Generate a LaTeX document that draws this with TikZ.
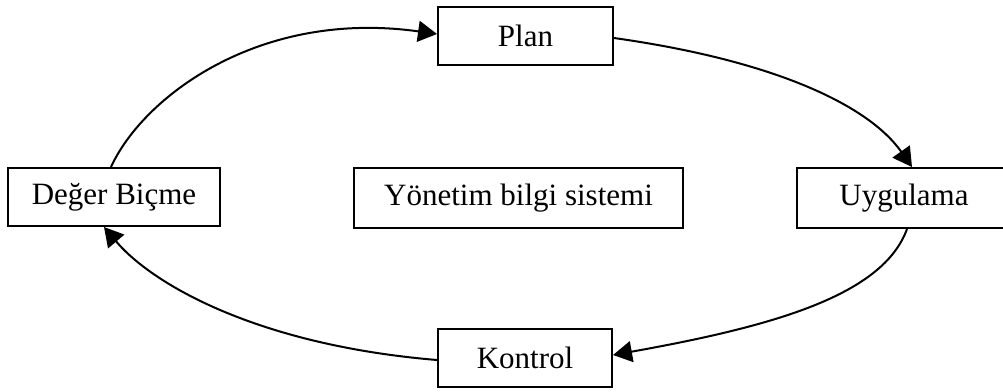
\documentclass[tikz,border=0pt]{standalone}
\usepackage{fontspec}
\setmainfont{Liberation Serif}
\usetikzlibrary{arrows.meta,calc}
\begin{document}
\begin{tikzpicture}[x=1pt,y=-1pt,
  stage/.style={draw=black,line width=2pt,fill=white,inner sep=0pt,
    font=\fontsize{31}{37}\selectfont},
  flow/.style={line width=2pt,-{Triangle[length=19pt,width=21pt]}}]
  \useasboundingbox (0,0) rectangle (1003,391);
  \clip (0,0) rectangle (1003,391);

  % cycle stages around the central information system
  \node[stage,minimum width=175pt,minimum height=58pt] (plan)    at (525.5,36)  {Plan};
  \node[stage,minimum width=212pt,minimum height=58pt] (deger)   at (114,197)   {Değer Biçme};
  \node[stage,minimum width=329pt,minimum height=60pt] (ybs)     at (518.5,198) {Yönetim bilgi sistemi};
  \node[stage,minimum width=214pt,minimum height=60pt] (uyg)     at (904,198)   {Uygulama};
  \node[stage,minimum width=174pt,minimum height=58pt] (kontrol) at (525,358)   {Kontrol};

  % curved arrows forming the management cycle
  \draw[flow] ($(deger.north west)+(104,0)$)
    .. controls +(32,-70) and +(-178,-25) .. ($(plan.west)+(0,-2)$);
  \draw[flow] ($(plan.east)+(0,2)$)
    .. controls +(163,23) and +(-43,-61) .. ($(uyg.north)+(8,0)$);
  \draw[flow] ($(uyg.south)+(3,0)$)
    .. controls +(-24,66) and +(162,-29) .. ($(kontrol.east)+(0,-3)$);
  \draw[flow] ($(kontrol.west)+(0,2)$)
    .. controls +(-180,-15) and +(48,57) .. ($(deger.south west)+(97,0)$);
\end{tikzpicture}
\end{document}
